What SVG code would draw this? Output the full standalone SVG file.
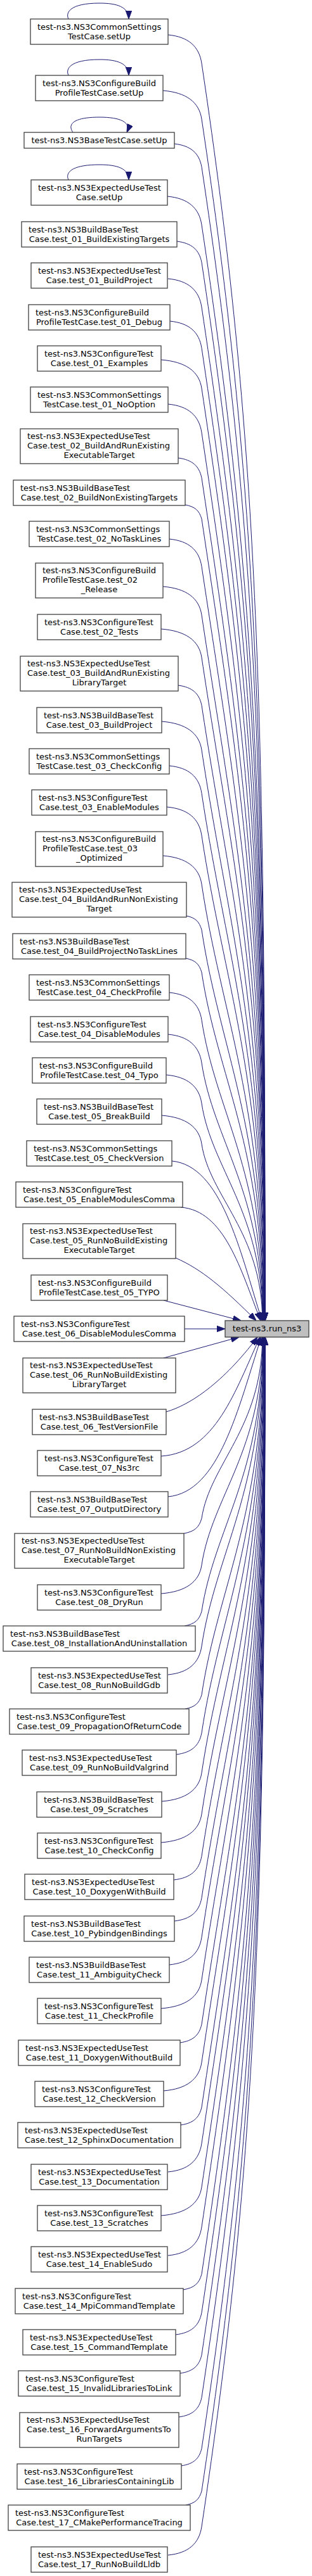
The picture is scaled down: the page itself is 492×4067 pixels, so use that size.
<svg xmlns="http://www.w3.org/2000/svg" width="492" height="4067" viewBox="0 0 492 4067">
<style>
.n rect{fill:#ffffff;stroke:#404040;stroke-width:1.3}
.t rect{fill:#bfbfbf;stroke:#404040;stroke-width:1.3}
text{font-family:"DejaVu Sans","Liberation Sans",sans-serif;font-size:13px;fill:#000000}
.c{text-anchor:middle}
.e path{fill:none;stroke:#191970;stroke-width:1;marker-end:url(#ah)}
</style>
<defs>
<marker id="ah" markerUnits="userSpaceOnUse" viewBox="0 0 13 9.4" refX="13" refY="4.7" markerWidth="13" markerHeight="9.4" orient="auto"><path d="M0,0 L13,4.7 L0,9.4 z" fill="#191970" stroke="#191970" stroke-width="1"/></marker>
</defs>
<rect x="0" y="0" width="492" height="4067" fill="#ffffff"/>
<g id="edges" class="e">
<path d="M108,30 C103,20 110,5 157,5 C185,5 203,11 203,30"/>
<path d="M108,119 C103,109 110,94 157,94 C185,94 203,100 203,119"/>
<path d="M115,209 C107,198 112,185 157,185 C190,185 207,193 200,209"/>
<path d="M108,284 C103,274 110,260 157,260 C185,260 203,266 203,284"/>
<path d="M265,55 C296.8,58 314,73 318,100 C407.3,695.5 418,1092.5 418,2085"/>
<path d="M257,143 C293.6,146 314,161 318,188 C403.4,757.1 418,1136.5 418,2085"/>
<path d="M275,227 C300.8,230 314,241.6 318,263.5 C400,810 418,1174.3 418,2085"/>
<path d="M264,310 C296.4,313 314,328 318,355 C395.9,874 418,1220 418,2085"/>
<path d="M279,381 C302.4,384 314,394.2 318,414.1 C393.2,915.4 418,1249.6 418,2085"/>
<path d="M265,440 C296.8,443 314,458 318,485 C390,965 418,1285 418,2085"/>
<path d="M268,507 C298,510 314,524 318,549.5 C387.1,1010.2 418,1317.3 418,2085"/>
<path d="M254,568 C292.4,571 314,586 318,613 C384.2,1054.6 418,1349 418,2085"/>
<path d="M265,638 C296.8,641 314,656 318,683 C381.1,1103.6 418,1384 418,2085"/>
<path d="M281,723 C303.2,726 314,735.6 318,754.4 C377.9,1153.6 418,1419.7 418,2085"/>
<path d="M292,797 C307.6,800 314,805.8 318,819.1 C375,1198.9 418,1452.1 418,2085"/>
<path d="M267,851 C297.6,854 314,868.3 318,894.3 C371.6,1251.5 418,1489.7 418,2085"/>
<path d="M257,926 C293.6,929 314,944 318,971 C368.1,1305.2 418,1528 418,2085"/>
<path d="M254,993 C292.4,996 314,1011 318,1038 C365.1,1352.1 418,1561.5 418,2085"/>
<path d="M281,1082 C303.2,1085 314,1094.6 318,1113.4 C361.7,1404.9 417.8,1599.2 417.8,2085"/>
<path d="M255,1139 C292.8,1142 314,1157 318,1184 C358.5,1454.3 417.4,1634.5 417.4,2085"/>
<path d="M267,1209 C297.6,1212 314,1226.3 318,1252.3 C355.5,1502.1 417,1668.7 417,2085"/>
<path d="M263,1274 C296,1277 314,1292 318,1319 C352.5,1548.8 416.6,1702 416.6,2085"/>
<path d="M257,1351 C293.6,1354 314,1369 318,1396 C349,1602.7 416.1,1740.5 416.1,2085"/>
<path d="M294,1446 C308.4,1449 314,1454.8 318,1468 C345.8,1653.1 415.7,1776.5 415.7,2085"/>
<path d="M293,1513 C308,1516 314,1521.8 318,1535 C342.8,1700 415.3,1810 415.3,2085"/>
<path d="M267,1567 C297.6,1570 314,1584.3 318,1610.3 C339.4,1752.7 414.8,1847.7 414.8,2085"/>
<path d="M265,1633 C296.8,1636 314,1651 318,1678 C336.3,1800.1 414.4,1881.5 414.4,2085"/>
<path d="M262,1697 C295.6,1700 314,1715 318,1742 C333.4,1844.9 414.1,1913.5 414.1,2085"/>
<path d="M255,1761 C292.8,1764 314,1779 318,1806 C330.6,1889.7 413.7,1945.5 413.7,2085"/>
<path d="M271,1833 C349.1,1840.6 377.5,1971.6 413,2085"/>
<path d="M285,1906 C354.3,1911.4 379.5,2004.5 411,2085"/>
<path d="M277,1986 C318,2004 352,2033 404,2085"/>
<path d="M258,2053 L380,2085"/>
<path d="M291,2098 L355,2098"/>
<path d="M258,2144 L377,2111"/>
<path d="M262,2229 C300,2218 352,2183 406,2111"/>
<path d="M254,2299 C339.8,2293.4 371,2195.6 410,2111"/>
<path d="M265,2363 C345.9,2355.4 375.2,2224.4 412,2111"/>
<path d="M290,2421 C306.8,2418 314,2411.5 318,2397.2 C330.9,2311.3 413.7,2254.1 413.7,2111"/>
<path d="M254,2516 C292.4,2513 314,2498 318,2471 C334.2,2363 414.2,2291 414.2,2111"/>
<path d="M291,2567 C307.2,2564 314,2557.8 318,2544.1 C337.5,2414.2 414.6,2327.5 414.6,2111"/>
<path d="M265,2644 C296.8,2641 314,2626 318,2599 C340,2452.6 414.9,2355 414.9,2111"/>
<path d="M292,2698 C307.6,2695 314,2689.2 318,2675.9 C343.4,2506.4 415.4,2393.4 415.4,2111"/>
<path d="M278,2770 C302,2767 314,2756.4 318,2736 C346.1,2548.5 415.8,2423.5 415.8,2111"/>
<path d="M255,2844 C292.8,2841 314,2826 318,2799 C349,2592.6 416.1,2455 416.1,2111"/>
<path d="M254,2909 C292.4,2906 314,2891 318,2864 C351.9,2638.1 416.5,2487.5 416.5,2111"/>
<path d="M274,2968 C300.4,2965 314,2953 318,2930.6 C354.9,2684.7 416.9,2520.8 416.9,2111"/>
<path d="M275,3033 C300.8,3030 314,3018.4 318,2996.5 C357.8,2730.8 417.3,2553.7 417.3,2111"/>
<path d="M267,3102 C297.6,3099 314,3084.7 318,3058.7 C360.6,2774.4 417.7,2584.8 417.7,2111"/>
<path d="M254,3171 C292.4,3168 314,3153 318,3126 C363.7,2821.5 418,2618.5 418,2111"/>
<path d="M284,3225 C304.4,3222 314,3213.4 318,3196.1 C366.8,2870.6 418,2653.5 418,2111"/>
<path d="M258,3301 C294,3298 314,3283 318,3256 C369.5,2912.5 418,2683.5 418,2111"/>
<path d="M285,3355 C304.8,3352 314,3343.8 318,3327 C372.7,2962.2 418,2719 418,2111"/>
<path d="M265,3429 C296.8,3426 314,3411 318,3384 C375.3,3002.1 418,2747.5 418,2111"/>
<path d="M254,3498 C292.4,3495 314,3480 318,3453 C378.4,3050.4 418,2782 418,2111"/>
<path d="M265,3561 C296.8,3558 314,3543 318,3516 C381.2,3094.5 418,2813.5 418,2111"/>
<path d="M289,3615 C306.4,3612 314,3605.2 318,3590.4 C384.6,3146.6 418,2850.7 418,2111"/>
<path d="M277,3686 C301.6,3683 314,3672.1 318,3651.2 C387.3,3189.1 418,2881.1 418,2111"/>
<path d="M284,3747 C304.4,3744 314,3735.4 318,3718.1 C390.3,3236 418,2914.5 418,2111"/>
<path d="M282,3816 C303.6,3813 314,3803.8 318,3785.4 C393.3,3283.1 418,2948.2 418,2111"/>
<path d="M286,3893 C305.2,3890 314,3882.1 318,3865.8 C397,3339.4 418,2988.4 418,2111"/>
<path d="M293,3955 C308,3952 314,3946.2 318,3933 C400,3386.4 418,3022 418,2111"/>
<path d="M265,4034 C296.8,4031 314,4016 318,3989 C402.5,3425.6 418,3050 418,2111"/>
</g>
<g id="n1" class="n"><rect x="48" y="30" width="217" height="40"/><text x="59" y="46.5">test-ns3.NS3CommonSettings</text><text class="c" x="156.5" y="61.5">TestCase.setUp</text></g>
<g id="n2" class="n"><rect x="56" y="119" width="201" height="40"/><text x="67" y="135.5">test-ns3.NS3ConfigureBuild</text><text class="c" x="156.5" y="150.5">ProfileTestCase.setUp</text></g>
<g id="n3" class="n"><rect x="38" y="209" width="237" height="25"/><text class="c" x="156.5" y="225.5">test-ns3.NS3BaseTestCase.setUp</text></g>
<g id="n4" class="n"><rect x="49" y="284" width="215" height="40"/><text x="60" y="300.5">test-ns3.NS3ExpectedUseTest</text><text class="c" x="156.5" y="315.5">Case.setUp</text></g>
<g id="n5" class="n"><rect x="34" y="350" width="245" height="40"/><text x="45" y="366.5">test-ns3.NS3BuildBaseTest</text><text class="c" x="156.5" y="381.5">Case.test_01_BuildExistingTargets</text></g>
<g id="n6" class="n"><rect x="49" y="415" width="215" height="40"/><text x="60" y="431.5">test-ns3.NS3ExpectedUseTest</text><text class="c" x="156.5" y="446.5">Case.test_01_BuildProject</text></g>
<g id="n7" class="n"><rect x="45" y="481" width="223" height="40"/><text x="56" y="497.5">test-ns3.NS3ConfigureBuild</text><text class="c" x="156.5" y="512.5">ProfileTestCase.test_01_Debug</text></g>
<g id="n8" class="n"><rect x="59" y="546" width="195" height="40"/><text x="70" y="562.5">test-ns3.NS3ConfigureTest</text><text class="c" x="156.5" y="577.5">Case.test_01_Examples</text></g>
<g id="n9" class="n"><rect x="48" y="611" width="217" height="40"/><text x="59" y="627.5">test-ns3.NS3CommonSettings</text><text class="c" x="156.5" y="642.5">TestCase.test_01_NoOption</text></g>
<g id="n10" class="n"><rect x="32" y="677" width="249" height="55"/><text x="43" y="693">test-ns3.NS3ExpectedUseTest</text><text x="43" y="708">Case.test_02_BuildAndRunExisting</text><text class="c" x="156.5" y="723">ExecutableTarget</text></g>
<g id="n11" class="n"><rect x="21" y="758" width="271" height="40"/><text x="32" y="774.5">test-ns3.NS3BuildBaseTest</text><text class="c" x="156.5" y="789.5">Case.test_02_BuildNonExistingTargets</text></g>
<g id="n12" class="n"><rect x="46" y="823" width="221" height="40"/><text x="57" y="839.5">test-ns3.NS3CommonSettings</text><text class="c" x="156.5" y="854.5">TestCase.test_02_NoTaskLines</text></g>
<g id="n13" class="n"><rect x="56" y="889" width="201" height="55"/><text x="67" y="905">test-ns3.NS3ConfigureBuild</text><text x="67" y="920">ProfileTestCase.test_02</text><text class="c" x="156.5" y="935">_Release</text></g>
<g id="n14" class="n"><rect x="59" y="970" width="195" height="40"/><text x="70" y="986.5">test-ns3.NS3ConfigureTest</text><text class="c" x="156.5" y="1001.5">Case.test_02_Tests</text></g>
<g id="n15" class="n"><rect x="32" y="1036" width="249" height="55"/><text x="43" y="1052">test-ns3.NS3ExpectedUseTest</text><text x="43" y="1067">Case.test_03_BuildAndRunExisting</text><text class="c" x="156.5" y="1082">LibraryTarget</text></g>
<g id="n16" class="n"><rect x="58" y="1117" width="197" height="40"/><text x="69" y="1133.5">test-ns3.NS3BuildBaseTest</text><text class="c" x="156.5" y="1148.5">Case.test_03_BuildProject</text></g>
<g id="n17" class="n"><rect x="46" y="1182" width="221" height="40"/><text x="57" y="1198.5">test-ns3.NS3CommonSettings</text><text class="c" x="156.5" y="1213.5">TestCase.test_03_CheckConfig</text></g>
<g id="n18" class="n"><rect x="50" y="1247" width="213" height="40"/><text x="61" y="1263.5">test-ns3.NS3ConfigureTest</text><text class="c" x="156.5" y="1278.5">Case.test_03_EnableModules</text></g>
<g id="n19" class="n"><rect x="56" y="1313" width="201" height="55"/><text x="67" y="1329">test-ns3.NS3ConfigureBuild</text><text x="67" y="1344">ProfileTestCase.test_03</text><text class="c" x="156.5" y="1359">_Optimized</text></g>
<g id="n20" class="n"><rect x="19" y="1393" width="275" height="55"/><text x="30" y="1409">test-ns3.NS3ExpectedUseTest</text><text x="30" y="1424">Case.test_04_BuildAndRunNonExisting</text><text class="c" x="156.5" y="1439">Target</text></g>
<g id="n21" class="n"><rect x="20" y="1474" width="273" height="40"/><text x="31" y="1490.5">test-ns3.NS3BuildBaseTest</text><text class="c" x="156.5" y="1505.5">Case.test_04_BuildProjectNoTaskLines</text></g>
<g id="n22" class="n"><rect x="46" y="1539" width="221" height="40"/><text x="57" y="1555.5">test-ns3.NS3CommonSettings</text><text class="c" x="156.5" y="1570.5">TestCase.test_04_CheckProfile</text></g>
<g id="n23" class="n"><rect x="48" y="1605" width="217" height="40"/><text x="59" y="1621.5">test-ns3.NS3ConfigureTest</text><text class="c" x="156.5" y="1636.5">Case.test_04_DisableModules</text></g>
<g id="n24" class="n"><rect x="51" y="1670" width="211" height="40"/><text x="62" y="1686.5">test-ns3.NS3ConfigureBuild</text><text class="c" x="156.5" y="1701.5">ProfileTestCase.test_04_Typo</text></g>
<g id="n25" class="n"><rect x="58" y="1735" width="197" height="40"/><text x="69" y="1751.5">test-ns3.NS3BuildBaseTest</text><text class="c" x="156.5" y="1766.5">Case.test_05_BreakBuild</text></g>
<g id="n26" class="n"><rect x="42" y="1801" width="229" height="40"/><text x="53" y="1817.5">test-ns3.NS3CommonSettings</text><text class="c" x="156.5" y="1832.5">TestCase.test_05_CheckVersion</text></g>
<g id="n27" class="n"><rect x="25" y="1866" width="263" height="40"/><text x="36" y="1882.5">test-ns3.NS3ConfigureTest</text><text class="c" x="156.5" y="1897.5">Case.test_05_EnableModulesComma</text></g>
<g id="n28" class="n"><rect x="36" y="1932" width="241" height="55"/><text x="47" y="1948">test-ns3.NS3ExpectedUseTest</text><text x="47" y="1963">Case.test_05_RunNoBuildExisting</text><text class="c" x="156.5" y="1978">ExecutableTarget</text></g>
<g id="n29" class="n"><rect x="49" y="2013" width="215" height="40"/><text x="60" y="2029.5">test-ns3.NS3ConfigureBuild</text><text class="c" x="156.5" y="2044.5">ProfileTestCase.test_05_TYPO</text></g>
<g id="target" class="t"><rect x="355" y="2085" width="132" height="26"/><text class="c" x="421" y="2102">test-ns3.run_ns3</text></g>
<g id="n30" class="n"><rect x="22" y="2078" width="269" height="40"/><text x="33" y="2094.5">test-ns3.NS3ConfigureTest</text><text class="c" x="156.5" y="2109.5">Case.test_06_DisableModulesComma</text></g>
<g id="n31" class="n"><rect x="36" y="2144" width="241" height="55"/><text x="47" y="2160">test-ns3.NS3ExpectedUseTest</text><text x="47" y="2175">Case.test_06_RunNoBuildExisting</text><text class="c" x="156.5" y="2190">LibraryTarget</text></g>
<g id="n32" class="n"><rect x="51" y="2225" width="211" height="40"/><text x="62" y="2241.5">test-ns3.NS3BuildBaseTest</text><text class="c" x="156.5" y="2256.5">Case.test_06_TestVersionFile</text></g>
<g id="n33" class="n"><rect x="59" y="2290" width="195" height="40"/><text x="70" y="2306.5">test-ns3.NS3ConfigureTest</text><text class="c" x="156.5" y="2321.5">Case.test_07_Ns3rc</text></g>
<g id="n34" class="n"><rect x="48" y="2355" width="217" height="40"/><text x="59" y="2371.5">test-ns3.NS3BuildBaseTest</text><text class="c" x="156.5" y="2386.5">Case.test_07_OutputDirectory</text></g>
<g id="n35" class="n"><rect x="23" y="2421" width="267" height="55"/><text x="34" y="2437">test-ns3.NS3ExpectedUseTest</text><text x="34" y="2452">Case.test_07_RunNoBuildNonExisting</text><text class="c" x="156.5" y="2467">ExecutableTarget</text></g>
<g id="n36" class="n"><rect x="59" y="2502" width="195" height="40"/><text x="70" y="2518.5">test-ns3.NS3ConfigureTest</text><text class="c" x="156.5" y="2533.5">Case.test_08_DryRun</text></g>
<g id="n37" class="n"><rect x="5" y="2567" width="303" height="40"/><text x="16" y="2583.5">test-ns3.NS3BuildBaseTest</text><text class="c" x="156.5" y="2598.5">Case.test_08_InstallationAndUninstallation</text></g>
<g id="n38" class="n"><rect x="49" y="2633" width="215" height="40"/><text x="60" y="2649.5">test-ns3.NS3ExpectedUseTest</text><text class="c" x="156.5" y="2664.5">Case.test_08_RunNoBuildGdb</text></g>
<g id="n39" class="n"><rect x="15" y="2698" width="283" height="40"/><text x="26" y="2714.5">test-ns3.NS3ConfigureTest</text><text class="c" x="156.5" y="2729.5">Case.test_09_PropagationOfReturnCode</text></g>
<g id="n40" class="n"><rect x="35" y="2763" width="243" height="40"/><text x="46" y="2779.5">test-ns3.NS3ExpectedUseTest</text><text class="c" x="156.5" y="2794.5">Case.test_09_RunNoBuildValgrind</text></g>
<g id="n41" class="n"><rect x="58" y="2829" width="197" height="40"/><text x="69" y="2845.5">test-ns3.NS3BuildBaseTest</text><text class="c" x="156.5" y="2860.5">Case.test_09_Scratches</text></g>
<g id="n42" class="n"><rect x="59" y="2894" width="195" height="40"/><text x="70" y="2910.5">test-ns3.NS3ConfigureTest</text><text class="c" x="156.5" y="2925.5">Case.test_10_CheckConfig</text></g>
<g id="n43" class="n"><rect x="39" y="2959" width="235" height="40"/><text x="50" y="2975.5">test-ns3.NS3ExpectedUseTest</text><text class="c" x="156.5" y="2990.5">Case.test_10_DoxygenWithBuild</text></g>
<g id="n44" class="n"><rect x="38" y="3025" width="237" height="40"/><text x="49" y="3041.5">test-ns3.NS3BuildBaseTest</text><text class="c" x="156.5" y="3056.5">Case.test_10_PybindgenBindings</text></g>
<g id="n45" class="n"><rect x="46" y="3090" width="221" height="40"/><text x="57" y="3106.5">test-ns3.NS3BuildBaseTest</text><text class="c" x="156.5" y="3121.5">Case.test_11_AmbiguityCheck</text></g>
<g id="n46" class="n"><rect x="59" y="3155" width="195" height="40"/><text x="70" y="3171.5">test-ns3.NS3ConfigureTest</text><text class="c" x="156.5" y="3186.5">Case.test_11_CheckProfile</text></g>
<g id="n47" class="n"><rect x="29" y="3221" width="255" height="40"/><text x="40" y="3237.5">test-ns3.NS3ExpectedUseTest</text><text class="c" x="156.5" y="3252.5">Case.test_11_DoxygenWithoutBuild</text></g>
<g id="n48" class="n"><rect x="55" y="3286" width="203" height="40"/><text x="66" y="3302.5">test-ns3.NS3ConfigureTest</text><text class="c" x="156.5" y="3317.5">Case.test_12_CheckVersion</text></g>
<g id="n49" class="n"><rect x="28" y="3351" width="257" height="40"/><text x="39" y="3367.5">test-ns3.NS3ExpectedUseTest</text><text class="c" x="156.5" y="3382.5">Case.test_12_SphinxDocumentation</text></g>
<g id="n50" class="n"><rect x="49" y="3417" width="215" height="40"/><text x="60" y="3433.5">test-ns3.NS3ExpectedUseTest</text><text class="c" x="156.5" y="3448.5">Case.test_13_Documentation</text></g>
<g id="n51" class="n"><rect x="59" y="3482" width="195" height="40"/><text x="70" y="3498.5">test-ns3.NS3ConfigureTest</text><text class="c" x="156.5" y="3513.5">Case.test_13_Scratches</text></g>
<g id="n52" class="n"><rect x="49" y="3547" width="215" height="40"/><text x="60" y="3563.5">test-ns3.NS3ExpectedUseTest</text><text class="c" x="156.5" y="3578.5">Case.test_14_EnableSudo</text></g>
<g id="n53" class="n"><rect x="24" y="3613" width="265" height="40"/><text x="35" y="3629.5">test-ns3.NS3ConfigureTest</text><text class="c" x="156.5" y="3644.5">Case.test_14_MpiCommandTemplate</text></g>
<g id="n54" class="n"><rect x="36" y="3678" width="241" height="40"/><text x="47" y="3694.5">test-ns3.NS3ExpectedUseTest</text><text class="c" x="156.5" y="3709.5">Case.test_15_CommandTemplate</text></g>
<g id="n55" class="n"><rect x="29" y="3743" width="255" height="40"/><text x="40" y="3759.5">test-ns3.NS3ConfigureTest</text><text class="c" x="156.5" y="3774.5">Case.test_15_InvalidLibrariesToLink</text></g>
<g id="n56" class="n"><rect x="31" y="3809" width="251" height="55"/><text x="42" y="3825">test-ns3.NS3ExpectedUseTest</text><text x="42" y="3840">Case.test_16_ForwardArgumentsTo</text><text class="c" x="156.5" y="3855">RunTargets</text></g>
<g id="n57" class="n"><rect x="27" y="3890" width="259" height="40"/><text x="38" y="3906.5">test-ns3.NS3ConfigureTest</text><text class="c" x="156.5" y="3921.5">Case.test_16_LibrariesContainingLib</text></g>
<g id="n58" class="n"><rect x="13" y="3955" width="287" height="40"/><text x="24" y="3971.5">test-ns3.NS3ConfigureTest</text><text class="c" x="156.5" y="3986.5">Case.test_17_CMakePerformanceTracing</text></g>
<g id="n59" class="n"><rect x="49" y="4021" width="215" height="40"/><text x="60" y="4037.5">test-ns3.NS3ExpectedUseTest</text><text class="c" x="156.5" y="4052.5">Case.test_17_RunNoBuildLldb</text></g>
</svg>
